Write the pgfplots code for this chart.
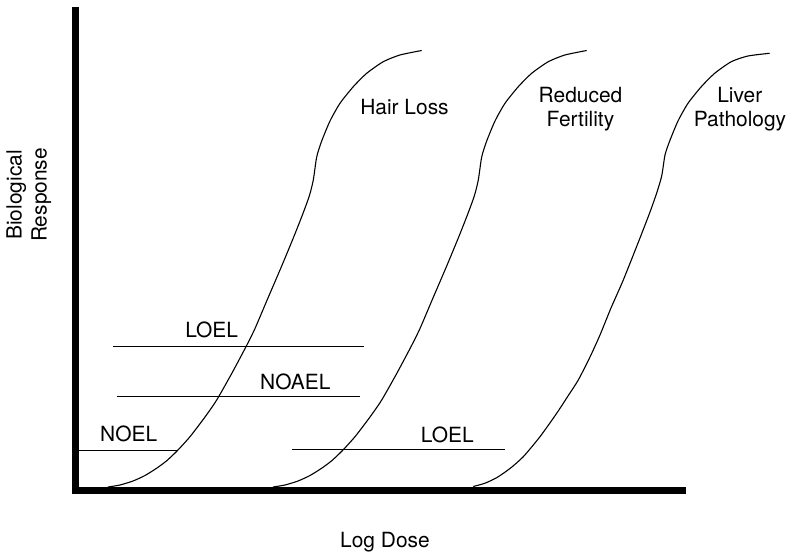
\documentclass[border=0pt]{standalone}
\usepackage{fontspec}
\setmainfont{TeX Gyre Heros}
\usepackage{pgfplots}
\pgfplotsset{compat=1.18}
\tikzset{lab/.style={font=\fontsize{21}{25}\selectfont, inner sep=0pt, anchor=base}}
\begin{document}
\begin{tikzpicture}
\useasboundingbox (0,0) rectangle (790bp,553bp);
\begin{axis}[
  at={(0,0)}, anchor=south west,
  scale only axis, width=790bp, height=553bp,
  xmin=0, xmax=790, ymin=0, ymax=553,
  hide axis, clip=false,
]
% axes
\addplot[black, line width=7bp, line cap=butt] coordinates {(75.6,546) (75.6,59)};
\addplot[black, line width=7bp, line cap=butt] coordinates {(72,62.7) (686,62.7)};
% Hair Loss
\addplot[black, line width=1.1bp, smooth, tension=0.4] coordinates {
(108,66) (120,68) (133,72) (145,77.5) (157,85) (167,92.5) (177.3,102.3)
(190,116.3) (205,136) (216.7,153) (232,180) (246,206.3) (255,224.5)
(266.7,252) (281.7,287) (293.3,315) (302,337) (309.3,357)
(313.3,373) (316.7,396) (321.7,412) (330,432) (340,449.7) (353.3,466.3)
(366.7,479.7) (383.3,491.3) (400,498) (421.7,502.5)};
% Reduced Fertility
\addplot[black, line width=1.1bp, smooth, tension=0.4] coordinates {
(273,66) (285,68) (298,72) (310,77.5) (322,85) (332,92.5) (342.3,102.3)
(355,116.3) (370,136) (381.7,153) (397,180) (411,206.3) (420,224.5)
(431.7,252) (446.7,287) (458.3,315) (467,337) (474.3,357)
(478.3,373) (481.7,396) (486.7,412) (495,432) (505,449.7) (518.3,466.3)
(531.7,479.7) (548.3,491.3) (565,498) (586.7,502.5)};
% Liver Pathology
\addplot[black, line width=1.1bp, smooth, tension=0.4] coordinates {
(473.3,66.5) (485,69.8) (497,75.5) (510,84.5) (523.3,96.3) (540,116.3)
(556.7,139.7) (568,157) (578.3,173) (590,196) (600,218) (611,245)
(623.3,273) (640,315) (650,341) (656.7,360) (661.7,377) (665,398)
(669.7,412) (678,432) (688,449.7) (701.3,466.3) (714.7,479.7)
(731.3,491.3) (748,497) (769.7,499.7)};
% level lines
\addplot[black, line width=0.9bp] coordinates {(113.3,206.3) (364,206.3)};
\addplot[black, line width=0.9bp] coordinates {(117.3,156.7) (360,156.7)};
\addplot[black, line width=0.9bp] coordinates {(76,102.3) (176.7,102.3)};
\addplot[black, line width=0.9bp] coordinates {(291.7,103.3) (505,103.3)};
% labels
\node[lab] at (axis cs:404.5,438) {Hair Loss};
\node[lab] at (axis cs:580.5,450.7) {Reduced};
\node[lab] at (axis cs:580.5,426.3) {Fertility};
\node[lab] at (axis cs:739.8,450.7) {Liver};
\node[lab] at (axis cs:740,426.3) {Pathology};
\node[lab] at (axis cs:211.7,215.7) {LOEL};
\node[lab] at (axis cs:295.3,163.7) {NOAEL};
\node[lab] at (axis cs:128.7,111.7) {NOEL};
\node[lab] at (axis cs:447.3,110.3) {LOEL};
\node[lab] at (axis cs:385,5.3) {Log Dose};
\node[lab, rotate=90] at (axis cs:21.7,358) {Biological};
\node[lab, rotate=90] at (axis cs:46.7,358) {Response};
\end{axis}
\end{tikzpicture}
\end{document}
